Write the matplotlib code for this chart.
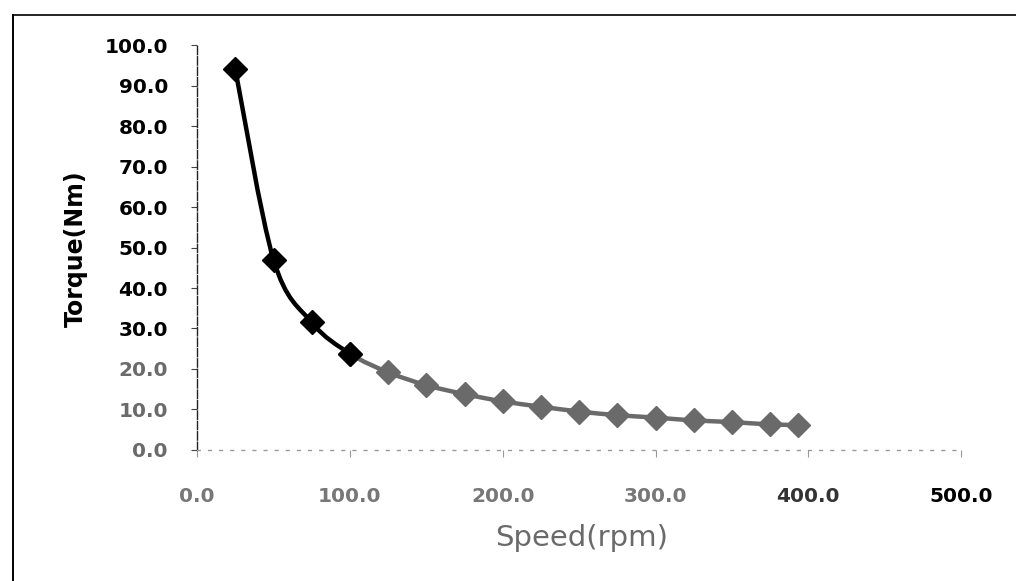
import numpy as np
import matplotlib
matplotlib.use("Agg")
import matplotlib.pyplot as plt
from matplotlib.path import Path
from matplotlib.patches import PathPatch
from matplotlib.lines import Line2D

# ---- data ----
speed_rpm = [25, 50, 75, 100, 125, 150, 175, 200, 225, 250, 275, 300, 325, 350, 375, 393]
torque_nm = [94.0, 47.0, 31.5, 23.8, 19.2, 16.0, 13.8, 12.0, 10.7, 9.5, 8.6, 8.0, 7.3, 6.9, 6.3, 6.2]
x_ticks = [0, 100, 200, 300, 400, 500]
y_ticks = [0, 10, 20, 30, 40, 50, 60, 70, 80, 90, 100]
x_label = "Speed(rpm)"
y_label = "Torque(Nm)"

plt.rcParams['font.family'] = ['DejaVu Sans']

fig = plt.figure(figsize=(10.16, 5.81), dpi=100)
ax = fig.add_axes([0.194, 0.2255, 0.752, 0.697])

# scan frame lines (top and left)
fig.add_artist(Line2D([13/1016, 1.0], [1 - 15/581, 1 - 15/581], transform=fig.transFigure,
                      color='black', lw=1.2))
fig.add_artist(Line2D([13/1016, 13/1016], [0.0, 1 - 15/581], transform=fig.transFigure,
                      color='black', lw=1.4))

pts = np.column_stack([speed_rpm, torque_nm]).astype(float)
n = len(pts)

def smooth_path(i0, i1):
    verts = [pts[i0]]
    codes = [Path.MOVETO]
    for i in range(i0, i1):
        p0 = pts[i - 1] if i > 0 else pts[i]
        p1 = pts[i]
        p2 = pts[i + 1]
        p3 = pts[i + 2] if i + 2 < n else pts[i + 1]
        c1 = p1 + (p2 - p0) / 6.0
        c2 = p2 - (p3 - p1) / 6.0
        verts += [c1, c2, p2]
        codes += [Path.CURVE4, Path.CURVE4, Path.CURVE4]
    return Path(verts, codes)

black = '#000000'
grey = '#6a6a6a'
ax.add_patch(PathPatch(smooth_path(3, n - 1), fill=False, edgecolor=grey, lw=3.2,
                       transform=ax.transData, zorder=2, capstyle='round'))
ax.add_patch(PathPatch(smooth_path(0, 3), fill=False, edgecolor=black, lw=3.2,
                       transform=ax.transData, zorder=3, capstyle='round'))
ax.plot(speed_rpm[3:], torque_nm[3:], linestyle='none', marker='D', ms=12,
        color=grey, zorder=4)
ax.plot(speed_rpm[:4], torque_nm[:4], linestyle='none', marker='D', ms=12,
        color=black, zorder=5)

ax.set_xlim(0, 500)
ax.set_ylim(0, 100)
ax.set_xticks(x_ticks)
ax.set_yticks(y_ticks)
ax.set_xticklabels([f"{v:.1f}" for v in x_ticks])
ax.set_yticklabels([f"{v:.1f}" for v in y_ticks])

for s in ['top', 'right']:
    ax.spines[s].set_visible(False)
ax.spines['left'].set_color('#222222')
ax.spines['left'].set_linewidth(1.0)
ax.spines['left'].set_linestyle((0, (6, 1.5)))
ax.spines['bottom'].set_color('#9a9a9a')
ax.spines['bottom'].set_linewidth(1.0)
ax.spines['bottom'].set_linestyle((0, (2, 6)))

ax.tick_params(axis='y', length=4, width=0.8, color='#444444', pad=17, labelsize=14.5)
ax.tick_params(axis='x', length=5, width=0.8, color='#999999', pad=22, labelsize=14.5)

ycols = {0: '#6a6a6a', 10: '#6a6a6a', 20: '#6a6a6a'}
for lab, v in zip(ax.get_yticklabels(), y_ticks):
    lab.set_fontweight('bold')
    lab.set_color(ycols.get(v, '#000000'))
xcols = {0: '#777777', 100: '#777777', 200: '#777777', 300: '#777777', 400: '#333333', 500: '#000000'}
for lab, v in zip(ax.get_xticklabels(), x_ticks):
    lab.set_fontweight('bold')
    lab.set_color(xcols[v])

fig.text(76/1016, 1 - 249/581, y_label, rotation=90, ha='center', va='center',
         fontsize=17, fontweight='bold', color='black')
fig.text(582/1016, 1 - 538/581, x_label, ha='center', va='center',
         fontsize=21, color='#6a6a6a')

fig.savefig('out.png', dpi=100)
